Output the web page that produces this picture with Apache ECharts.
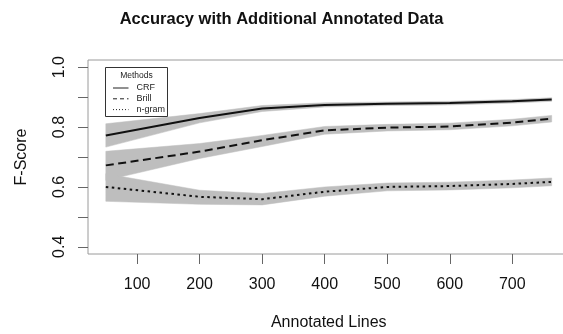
<!DOCTYPE html>
<html>
<head>
<meta charset="utf-8">
<script src="https://cdn.jsdelivr.net/npm/echarts@6/dist/echarts.min.js"></script>
<style>
  html, body { margin: 0; padding: 0; background: #fff; }
  #chart { width: 563px; height: 334px; }
</style>
</head>
<body>
<div id="chart"></div>
<script>
// annotated lines used for training
const lines = [50, 200, 300, 400, 500, 600, 700, 763];

const crfMean = [0.772, 0.830, 0.862, 0.874, 0.878, 0.880, 0.886, 0.892];
const crfLow = [0.733, 0.814, 0.852, 0.867, 0.872, 0.874, 0.880, 0.886];
const crfHigh = [0.811, 0.845, 0.872, 0.881, 0.884, 0.886, 0.892, 0.898];

const brillMean = [0.672, 0.718, 0.756, 0.789, 0.798, 0.802, 0.815, 0.828];
const brillLow = [0.622, 0.695, 0.735, 0.776, 0.787, 0.791, 0.804, 0.817];
const brillHigh = [0.719, 0.745, 0.772, 0.802, 0.809, 0.813, 0.826, 0.839];

const ngramMean = [0.600, 0.567, 0.559, 0.584, 0.600, 0.603, 0.610, 0.617];
const ngramLow = [0.552, 0.542, 0.540, 0.569, 0.587, 0.590, 0.597, 0.604];
const ngramHigh = [0.644, 0.589, 0.578, 0.600, 0.613, 0.616, 0.623, 0.630];

const xTicks = [100, 200, 300, 400, 500, 600, 700];
const yTicks = [0.4, 0.5, 0.6, 0.7, 0.8, 0.9, 1.0];
const yLabels = [0.4, 0.6, 0.8, 1.0];

const methods = ['CRF', 'Brill', 'n-gram'];

const font = 'Liberation Sans, Arial, Helvetica, sans-serif';
const bandColor = '#bebebe';
const inkColor = '#111';

function pairs(vals) {
    return lines.map((x, i) => [x, vals[i]]);
}

// gray band drawn as one polygon: along the upper bound, back along the lower
function band(low, high) {
    return {
        type: 'custom',
        silent: true,
        z: 1,
        data: [0],
        renderItem: function (params, api) {
            let pts = [];
            lines.forEach((x, i) => pts.push(api.coord([x, high[i]])));
            for (let i = lines.length - 1; i >= 0; i--) pts.push(api.coord([lines[i], low[i]]));
            return {
                type: 'polygon',
                shape: { points: pts },
                style: { fill: bandColor, stroke: bandColor, lineWidth: 0.5 }
            };
        }
    };
}

function meanLine(name, vals, type) {
    return {
        name: name,
        type: 'line',
        symbol: 'none',
        lineStyle: { color: inkColor, width: 2, type: type, cap: 'butt' },
        data: pairs(vals),
        z: 3
    };
}

// legend box drawn by hand, R style
const legendLeft = 105.5, legendTop = 67.5;
const legendDash = ['solid', [4, 3], [1, 2]];
let legendGraphic = [{
    type: 'rect',
    shape: { x: legendLeft, y: legendTop, width: 62, height: 49 },
    style: { fill: '#fff', stroke: '#333', lineWidth: 1 },
    z: 5
}, {
    type: 'text',
    x: legendLeft + 31,
    y: legendTop + 8,
    style: { text: 'Methods', fontFamily: font, fontSize: 8.5, fill: '#222', textAlign: 'center', textVerticalAlign: 'middle' },
    z: 6
}];
methods.forEach((m, i) => {
    let y = legendTop + 20.5 + i * 10.8;
    legendGraphic.push({
        type: 'line',
        shape: { x1: legendLeft + 7.5, y1: y, x2: legendLeft + 23, y2: y },
        style: { stroke: '#222', lineWidth: 1, lineDash: legendDash[i] === 'solid' ? null : legendDash[i] },
        z: 6
    }, {
        type: 'text',
        x: legendLeft + 31,
        y: y,
        style: { text: m, fontFamily: font, fontSize: 9, fill: '#222', textAlign: 'left', textVerticalAlign: 'middle' },
        z: 6
    });
});

const chart = echarts.init(document.getElementById('chart'));
chart.setOption({
    animation: false,
    backgroundColor: '#fff',
    title: {
        text: 'Accuracy with Additional Annotated Data',
        left: 'center',
        top: 11,
        padding: 0,
        textStyle: { fontFamily: font, fontSize: 16.5, fontWeight: 'bold', color: '#111' }
    },
    grid: {
        left: 88,
        top: 60,
        width: 481.5,
        height: 194,
        show: true,
        borderColor: '#9a9a9a',
        borderWidth: 1,
        backgroundColor: 'transparent',
        containLabel: false,
        outerBoundsMode: 'none'
    },
    graphic: legendGraphic,
    xAxis: {
        type: 'value',
        min: 21.5,
        max: 791.5,
        name: 'Annotated Lines',
        nameLocation: 'middle',
        nameGap: 61,
        nameTextStyle: { fontFamily: font, fontSize: 16, color: '#111' },
        axisLine: { show: false },
        axisTick: {
            show: true,
            length: 10,
            customValues: xTicks,
            lineStyle: { color: '#666' }
        },
        axisLabel: {
            customValues: xTicks,
            margin: 23,
            fontFamily: font,
            fontSize: 16,
            color: '#111'
        },
        splitLine: { show: false }
    },
    yAxis: {
        type: 'value',
        min: 0.376,
        max: 1.024,
        name: 'F-Score',
        nameLocation: 'middle',
        nameGap: 58,
        nameTextStyle: { fontFamily: font, fontSize: 16, color: '#111' },
        axisLine: { show: false },
        axisTick: {
            show: true,
            length: 10,
            customValues: yTicks,
            lineStyle: { color: '#666' }
        },
        axisLabel: {
            customValues: yLabels,
            rotate: 90,
            margin: 20,
            fontFamily: font,
            fontSize: 16,
            color: '#111',
            formatter: v => v.toFixed(1)
        },
        splitLine: { show: false }
    },
    series: [
        band(crfLow, crfHigh),
        band(brillLow, brillHigh),
        band(ngramLow, ngramHigh),
        meanLine('CRF', crfMean, 'solid'),
        meanLine('Brill', brillMean, [8, 4.5]),
        meanLine('n-gram', ngramMean, [2.5, 3.5])
    ]
});
</script>
</body>
</html>
